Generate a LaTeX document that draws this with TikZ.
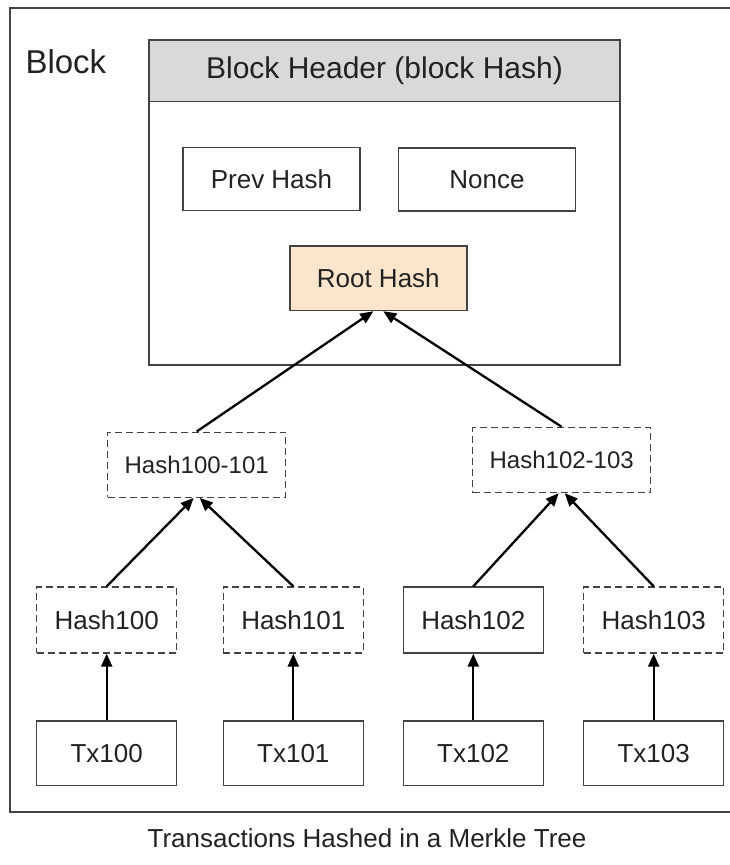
\documentclass[tikz,border=0pt]{standalone}
\usepackage{fontspec}
\setmainfont{Liberation Sans}
\usetikzlibrary{arrows.meta}
\definecolor{edge}{HTML}{434343}
\definecolor{headgrey}{HTML}{D9D9D9}
\definecolor{peach}{HTML}{FCE5CD}
\definecolor{ink}{HTML}{222222}
\tikzset{
  box/.style={draw=edge,line width=1.4pt,inner sep=0pt,text=ink,font=\fontsize{26}{30}\selectfont},
  dbox/.style={box,dash pattern=on 7pt off 4pt},
  link/.style={->,line width=2.3pt,black},
}
\begin{document}
\begin{tikzpicture}[x=1pt,y=-1pt,>={Triangle[length=13pt,width=11pt]}]
\useasboundingbox (0,0) rectangle (730,865);
% block and its header
\draw[edge,line width=1.4pt] (10,8) rectangle (745,812);
\node[anchor=base west,text=ink,font=\fontsize{33}{38}\selectfont] (blk) at (22,73) {Block};
\draw[edge,line width=1.4pt] (149,101.5) rectangle (620,365);
\node[box,fill=headgrey,minimum width=471pt,minimum height=61.5pt,font=\fontsize{30}{34}\selectfont] (hdr) at (384.5,70.75) {Block Header (block Hash)};
\node[box,minimum width=177pt,minimum height=63pt] (prev) at (271.5,179) {Prev Hash};
\node[box,minimum width=177pt,minimum height=63pt] (nonce) at (487,179.5) {Nonce};
\node[box,fill=peach,minimum width=177pt,minimum height=64.5pt] (root) at (378.3,278.3) {Root Hash};
% middle level
\node[dbox,minimum width=178pt,minimum height=65pt,font=\fontsize{24}{28}\selectfont] (h0001) at (196.7,464.7) {Hash100-101};
\node[dbox,minimum width=178pt,minimum height=65pt,font=\fontsize{24}{28}\selectfont] (h0203) at (561.7,460) {Hash102-103};
% leaves
\foreach \i/\x/\s in {00/106.7/dbox,01/293.3/dbox,02/473.3/box,03/653.7/dbox}
{
    \node[\s,minimum width=140pt,minimum height=66pt] (h\i) at (\x,620) {Hash1\i};
    \node[box,minimum width=140pt,minimum height=64.5pt] (t\i) at (\x,753.3) {Tx1\i};
    \draw[link] (t\i) -- (h\i);
}
\draw[link] (h00.north) -- ([xshift=-3pt]h0001.south);
\draw[link] (h01.north) -- ([xshift=3pt]h0001.south);
\draw[link] (h02.north) -- ([xshift=-3pt]h0203.south);
\draw[link] (h03.north) -- ([xshift=3pt]h0203.south);
\draw[link] (h0001.north) -- ([xshift=-5pt]root.south);
\draw[link] (h0203.north) -- ([xshift=5pt]root.south);
\node[text=ink,font=\fontsize{26}{30}\selectfont] (cap) at (367,838) {Transactions Hashed in a Merkle Tree};
\end{tikzpicture}
\end{document}
